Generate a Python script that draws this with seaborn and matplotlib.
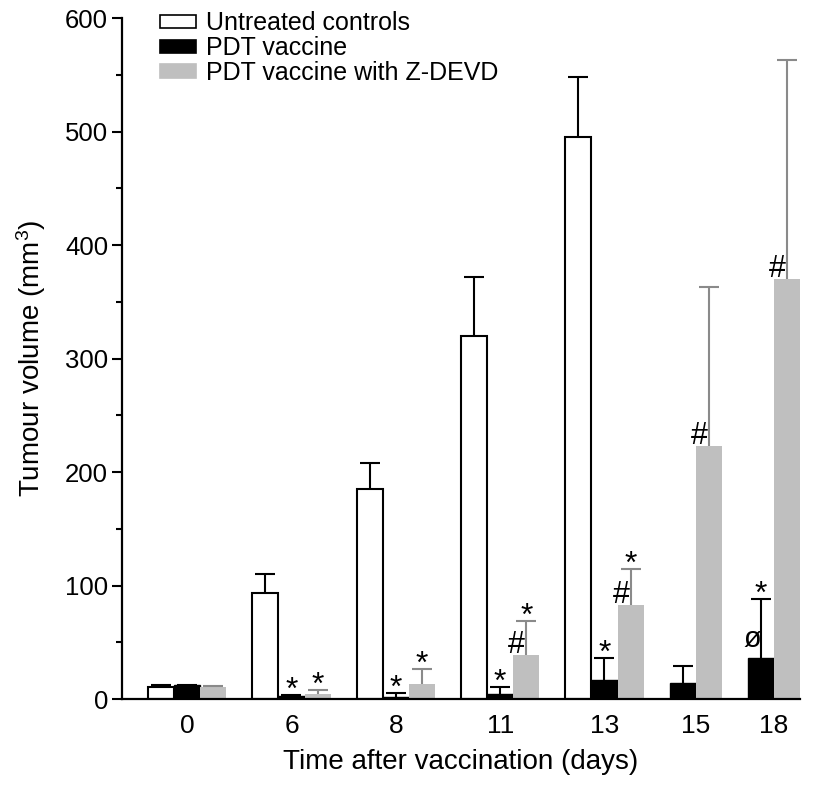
import numpy as np
import pandas as pd
import matplotlib
matplotlib.use('Agg')
import matplotlib.pyplot as plt
from matplotlib.patches import Patch
from matplotlib.ticker import MultipleLocator
import seaborn as sns

# === 1. Values ===
days = ['0', '6', '8', '11', '13', '15', '18']
series = ['Untreated controls', 'PDT vaccine', 'PDT vaccine with Z-DEVD']

untreated = [11, 93, 185, 320, 495, np.nan, np.nan]
untreated_err = [1, 17, 23, 52, 53, np.nan, np.nan]
pdt = [12, 2.5, 2, 4.5, 17, 14, 36]
pdt_err = [0.5, 1, 3.5, 6, 19, 15, 52]
zdevd = [11, 4.5, 13.5, 39, 83, 223, 370]
zdevd_err = [0.5, 3.5, 13, 30, 32, 140, 193]

# significance marks: above the error bar / beside the bar
pdt_star = ['', '*', '*', '*', '*', '', '*']
pdt_side = ['', '', '', '', '', '', 'ø']
zdevd_star = ['', '*', '*', '*', '*', '', '']
zdevd_side = ['', '', '', '#', '#', '#', '#']

colors = ['white', 'black', '#bfbfbf']
edge_colors = ['black', 'black', '#bfbfbf']
edge_widths = [1.5, 1.0, 0]
err_colors = ['black', 'black', '#8a8a8a']

# === 2. Long table, one slot per bar and one empty slot between days ===
means = [untreated, pdt, zdevd]
errs = [untreated_err, pdt_err, zdevd_err]
stars = [[''] * len(days), pdt_star, zdevd_star]
sides = [[''] * len(days), pdt_side, zdevd_side]

rows = []
centers = []
slot = 0
for i, d in enumerate(days):
    first = slot
    for s, name in enumerate(series):
        if np.isnan(means[s][i]):
            continue
        rows.append(dict(day=d, series=name, pos=slot, value=means[s][i],
                         err=errs[s][i], star=stars[s][i], side=sides[s][i]))
        slot += 1
    centers.append((first + slot - 1) / 2)
    slot += 1
df = pd.DataFrame(rows)

# === 3. Plot ===
sns.set_style('ticks')
plt.rcParams['font.family'] = ['Liberation Sans', 'DejaVu Sans']
plt.rcParams['mathtext.default'] = 'regular'
for key in ['text.color', 'axes.labelcolor', 'xtick.color', 'ytick.color', 'axes.edgecolor']:
    plt.rcParams[key] = 'black'

fig, ax = plt.subplots(figsize=(8.24, 7.92), dpi=100)
fig.subplots_adjust(left=0.148, right=0.971, bottom=0.1174, top=0.977)

sns.barplot(data=df, x='pos', y='value', hue='series', hue_order=series,
            palette=colors, saturation=1, native_scale=True, dodge=False,
            width=1, errorbar=None, legend=False, ax=ax)
for cont, ec, lw in zip(ax.containers, edge_colors, edge_widths):
    for bar in cont:
        bar.set_edgecolor(ec)
        bar.set_linewidth(lw)

# upper error bars only (hide the cap drawn at the bar top)
for name, ec in zip(series, err_colors):
    sub = df[df.series == name]
    eb = ax.errorbar(sub.pos, sub.value, yerr=[np.zeros(len(sub)), sub.err], fmt='none',
                     ecolor=ec, elinewidth=1.5, capsize=7, capthick=1.5, zorder=3)
    eb.lines[1][0].set_visible(False)

for r in df.itertuples():
    if r.star:
        ax.annotate(r.star, (r.pos, r.value + r.err), xytext=(0, -3),
                    textcoords='offset points', ha='center', va='baseline', fontsize=23)
    if r.side == '#':
        ax.annotate(r.side, (r.pos, r.value), xytext=(-7, 1.5),
                    textcoords='offset points', ha='center', va='baseline', fontsize=22)
    elif r.side:
        ax.annotate(r.side, (r.pos, r.value), xytext=(-6.5, 8),
                    textcoords='offset points', ha='center', va='baseline', fontsize=21)

ax.set_xlim(-1.5, slot - 1.5)
ax.set_ylim(0, 600)
ax.yaxis.set_major_locator(MultipleLocator(100))
ax.yaxis.set_minor_locator(MultipleLocator(50))
ax.set_xticks(centers, days)
ax.tick_params(axis='x', length=0, pad=11, labelsize=19)
ax.tick_params(axis='y', which='major', length=7, width=1.5, pad=3, labelsize=18.5)
ax.tick_params(axis='y', which='minor', length=4, width=1.5)
sns.despine(ax=ax)
for sp in ['left', 'bottom']:
    ax.spines[sp].set_linewidth(1.6)

ax.set_xlabel('Time after vaccination (days)', fontsize=20, labelpad=8)
ax.set_ylabel('Tumour volume (mm$^3$)', fontsize=20, labelpad=12)

handles = [Patch(facecolor=c, edgecolor=e, linewidth=1.2) for c, e in zip(colors, edge_colors)]
ax.legend(handles, series, loc='upper left', bbox_to_anchor=(0.194, 0.9855),
          bbox_transform=fig.transFigure, frameon=False, fontsize=18,
          handlelength=1.45, handleheight=0.45, handletextpad=0.4,
          labelspacing=0.03, borderpad=0, borderaxespad=0)

plt.savefig('out.png', dpi=100)
